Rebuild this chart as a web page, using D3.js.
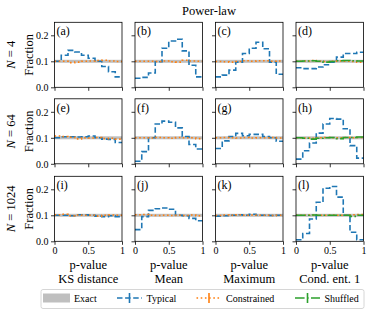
<!DOCTYPE html>
<html lang="en">
	<head>
		<meta charset="utf-8">
		<title>Power-law p-value histograms</title>
		<script src="https://cdn.jsdelivr.net/npm/d3@7"></script>
		<style>
			body { margin: 0; background: #fff; }
			svg text { font-family: "Liberation Serif", "DejaVu Serif", serif !important; fill: #000; }
		</style>
	</head>
	<body>
		<script>

			var w = 373;
			var h = 315;

			// chart values
			var binEdges = [0, 0.1, 0.2, 0.3, 0.4, 0.5, 0.6, 0.7, 0.8, 0.9, 1];
			var rowLabels = ["4", "64", "1024"];
			var colLabels = ["KS distance", "Mean", "Maximum", "Cond. ent. 1"];
			var panelLetters = ["a", "b", "c", "d", "e", "f", "g", "h", "i", "j", "k", "l"];
			var yTicks = [0, 0.1, 0.2];
			var xTicks = [0, 0.5, 1];
			var exactValue = 0.1;

			var typicalN4 = [
				[0.100, 0.123, 0.142, 0.136, 0.123, 0.112, 0.100, 0.080, 0.060, 0.040],
				[0.035, 0.038, 0.055, 0.098, 0.150, 0.178, 0.185, 0.140, 0.085, 0.040],
				[0.040, 0.047, 0.066, 0.097, 0.130, 0.150, 0.173, 0.148, 0.097, 0.050],
				[0.075, 0.072, 0.072, 0.078, 0.087, 0.097, 0.116, 0.130, 0.130, 0.135]
			];
			var typicalN64 = [
				[0.100, 0.104, 0.104, 0.103, 0.104, 0.107, 0.100, 0.095, 0.094, 0.082],
				[0.010, 0.047, 0.100, 0.153, 0.164, 0.160, 0.138, 0.105, 0.074, 0.057],
				[0.059, 0.088, 0.105, 0.117, 0.108, 0.113, 0.113, 0.105, 0.100, 0.087],
				[0.018, 0.050, 0.080, 0.118, 0.153, 0.174, 0.172, 0.135, 0.070, 0.022]
			];
			var typicalN1024 = [
				[0.100, 0.100, 0.098, 0.102, 0.102, 0.100, 0.097, 0.095, 0.098, 0.095],
				[0.045, 0.095, 0.119, 0.125, 0.128, 0.123, 0.100, 0.098, 0.088, 0.079],
				[0.097, 0.098, 0.100, 0.102, 0.100, 0.104, 0.100, 0.100, 0.099, 0.100],
				[0.006, 0.030, 0.086, 0.150, 0.204, 0.211, 0.170, 0.100, 0.035, 0.006]
			];

			var constrainedN4 = [
				[0.100, 0.100, 0.095, 0.097, 0.100, 0.101, 0.103, 0.104, 0.101, 0.099],
				[0.100, 0.100, 0.100, 0.099, 0.101, 0.098, 0.097, 0.104, 0.101, 0.100],
				[0.099, 0.098, 0.097, 0.099, 0.102, 0.100, 0.102, 0.102, 0.100, 0.101],
				[0.100, 0.101, 0.103, 0.100, 0.099, 0.100, 0.101, 0.100, 0.099, 0.097]
			];
			var constrainedN64 = [
				[0.107, 0.105, 0.102, 0.096, 0.100, 0.099, 0.101, 0.097, 0.098, 0.095],
				[0.100, 0.100, 0.099, 0.101, 0.100, 0.098, 0.101, 0.100, 0.100, 0.097],
				[0.100, 0.101, 0.100, 0.099, 0.101, 0.099, 0.100, 0.100, 0.101, 0.099],
				[0.100, 0.099, 0.098, 0.100, 0.101, 0.100, 0.100, 0.101, 0.100, 0.101]
			];
			var constrainedN1024 = [
				[0.102, 0.104, 0.098, 0.101, 0.100, 0.100, 0.097, 0.100, 0.101, 0.100],
				[0.102, 0.103, 0.100, 0.099, 0.100, 0.099, 0.100, 0.099, 0.101, 0.098],
				[0.099, 0.101, 0.100, 0.102, 0.100, 0.101, 0.100, 0.100, 0.099, 0.100],
				[0.100, 0.100, 0.101, 0.100, 0.100, 0.101, 0.100, 0.100, 0.102, 0.103]
			];

			// shuffled only exists for the last column
			var shuffledN4 = [0.100, 0.101, 0.102, 0.100, 0.097, 0.099, 0.102, 0.103, 0.102, 0.101];
			var shuffledN64 = [0.100, 0.098, 0.095, 0.098, 0.100, 0.101, 0.097, 0.101, 0.101, 0.103];
			var shuffledN1024 = [0.100, 0.100, 0.101, 0.100, 0.100, 0.100, 0.100, 0.100, 0.096, 0.100];

			var typical = [typicalN4, typicalN64, typicalN1024];
			var constrained = [constrainedN4, constrainedN64, constrainedN1024];
			var shuffled = [shuffledN4, shuffledN64, shuffledN1024];

			// layout
			var colLeft = [54.5, 135, 215.5, 296];
			var rowTop = [22.3, 98.8, 176.3];
			var panelW = 67.5;
			var panelH = 65;
			var serif = "'Liberation Serif', 'DejaVu Serif', serif";

			var blue = "#1f77b4", orange = "#ff7f0e", green = "#2ca02c", gray = "#bfbfbf";

			var svg = d3.select("body")
						.append("svg")
						.attr("width", w)
						.attr("height", h)
						.style("font-family", serif);

			svg.append("text")
			   .attr("x", (colLeft[0] + colLeft[3] + panelW) / 2)
			   .attr("y", 15)
			   .attr("text-anchor", "middle")
			   .attr("font-size", "12.5px")
			   .text("Power-law");

			function stepPoints(vals) {
				var pts = vals.map(function(v, i) { return [binEdges[i], v]; });
				pts.push([1, vals[vals.length - 1]]);
				return pts;
			}

			rowTop.forEach(function(top, r) {
				var yScale = d3.scaleLinear()
							   .domain([0, 0.25])
							   .range([top + panelH, top]);

				// row labels
				var cy = top + panelH / 2;
				var nl = svg.append("text")
				   .attr("transform", "translate(15," + cy + ") rotate(-90)")
				   .attr("text-anchor", "middle")
				   .attr("font-size", "12.5px");
				nl.append("tspan").attr("font-style", "italic").text("N");
				nl.append("tspan").text(" = " + rowLabels[r]);

				svg.append("text")
				   .attr("transform", "translate(32.5," + cy + ") rotate(-90)")
				   .attr("text-anchor", "middle")
				   .attr("font-size", "12.5px")
				   .text("Fraction");

				colLeft.forEach(function(left, c) {
					var xScale = d3.scaleLinear()
								   .domain([0, 1])
								   .range([left, left + panelW]);

					var g = svg.append("g");

					var line = d3.line()
								 .x(function(d) { return xScale(d[0]); })
								 .y(function(d) { return yScale(d[1]); })
								 .curve(d3.curveStepAfter);

					// exact (uniform) band
					g.append("rect")
					 .attr("x", xScale(0))
					 .attr("width", xScale(1) - xScale(0))
					 .attr("y", yScale(exactValue) - 1.5)
					 .attr("height", 3)
					 .attr("fill", gray);

					g.append("path")
					 .attr("d", line(stepPoints(typical[r][c])))
					 .attr("fill", "none")
					 .attr("stroke", blue)
					 .attr("stroke-width", 1.6)
					 .attr("stroke-dasharray", "5.5,2.6");

					g.append("path")
					 .attr("d", line(stepPoints(constrained[r][c])))
					 .attr("fill", "none")
					 .attr("stroke", orange)
					 .attr("stroke-width", 1.6)
					 .attr("stroke-dasharray", "1.6,2.6");

					if (c === 3) {
						g.append("path")
						 .attr("d", line(stepPoints(shuffled[r])))
						 .attr("fill", "none")
						 .attr("stroke", green)
						 .attr("stroke-width", 1.6)
						 .attr("stroke-dasharray", "9.6,2.4,1.6,2.4");
					}

					// frame
					g.append("rect")
					 .attr("x", left)
					 .attr("y", top)
					 .attr("width", panelW)
					 .attr("height", panelH)
					 .attr("fill", "none")
					 .attr("stroke", "#000")
					 .attr("stroke-width", 0.8);

					var yAxis = d3.axisLeft(yScale)
								  .tickValues(yTicks)
								  .tickSize(3.5)
								  .tickPadding(2.5)
								  .tickFormat(c === 0 ? d3.format(".1f") : function() { return ""; });

					var xAxis = d3.axisBottom(xScale)
								  .tickValues(xTicks)
								  .tickSize(3.5)
								  .tickPadding(2.5)
								  .tickFormat(r === 2 ? function(d) { return String(d); } : function() { return ""; });

					var ya = g.append("g")
					 .attr("transform", "translate(" + left + ",0)")
					 .call(yAxis);
					var xa = g.append("g")
					 .attr("transform", "translate(0," + (top + panelH) + ")")
					 .call(xAxis);

					[ya, xa].forEach(function(a) {
						a.attr("font-family", null).style("font-family", serif).attr("font-size", "10px");
						a.select(".domain").remove();
						a.selectAll("line").attr("stroke-width", 0.8);
						a.selectAll("text").style("font-family", serif);
					});

					// panel letter
					g.append("text")
					 .attr("x", left + 2)
					 .attr("y", top + 13)
					 .attr("font-size", "12px")
					 .text("(" + panelLetters[r * 4 + c] + ")");

					if (r === 2) {
						var cx = left + panelW / 2;
						svg.append("text")
						   .attr("x", cx)
						   .attr("y", 268.5)
						   .attr("text-anchor", "middle")
						   .attr("font-size", "12.5px")
						   .text("p-value");
						svg.append("text")
						   .attr("x", cx)
						   .attr("y", 282.5)
						   .attr("text-anchor", "middle")
						   .attr("font-size", "12.5px")
						   .text(colLabels[c]);
					}
				});
			});

			// legend
			var lg = svg.append("g");
			lg.append("rect")
			  .attr("x", 41)
			  .attr("y", 289.5)
			  .attr("width", 323)
			  .attr("height", 19)
			  .attr("rx", 2)
			  .attr("fill", "#fff")
			  .attr("stroke", "#cccccc")
			  .attr("stroke-width", 0.8);

			var ly = 298;
			lg.append("rect")
			  .attr("x", 43)
			  .attr("y", 293.5)
			  .attr("width", 27)
			  .attr("height", 9)
			  .attr("fill", gray);
			lg.append("text").attr("x", 74).attr("y", 301.5).attr("font-size", "10px").text("Exact");

			var legendLines = [
				{ x: 117, label: "Typical", color: blue, dash: "5.5,2.6" },
				{ x: 196.5, label: "Constrained", color: orange, dash: "1.6,2.6" },
				{ x: 295, label: "Shuffled", color: green, dash: "9.6,2.4,1.6,2.4" }
			];
			legendLines.forEach(function(d) {
				lg.append("line")
				  .attr("x1", d.x).attr("x2", d.x + 25)
				  .attr("y1", ly).attr("y2", ly)
				  .attr("stroke", d.color)
				  .attr("stroke-width", 1.6)
				  .attr("stroke-dasharray", d.dash);
				lg.append("line")
				  .attr("x1", d.x + 12.5).attr("x2", d.x + 12.5)
				  .attr("y1", ly - 5).attr("y2", ly + 5)
				  .attr("stroke", d.color)
				  .attr("stroke-width", 1.6);
				lg.append("text")
				  .attr("x", d.x + 29.5)
				  .attr("y", 301.5)
				  .attr("font-size", "10px")
				  .text(d.label);
			});
		</script>
	</body>
</html>
